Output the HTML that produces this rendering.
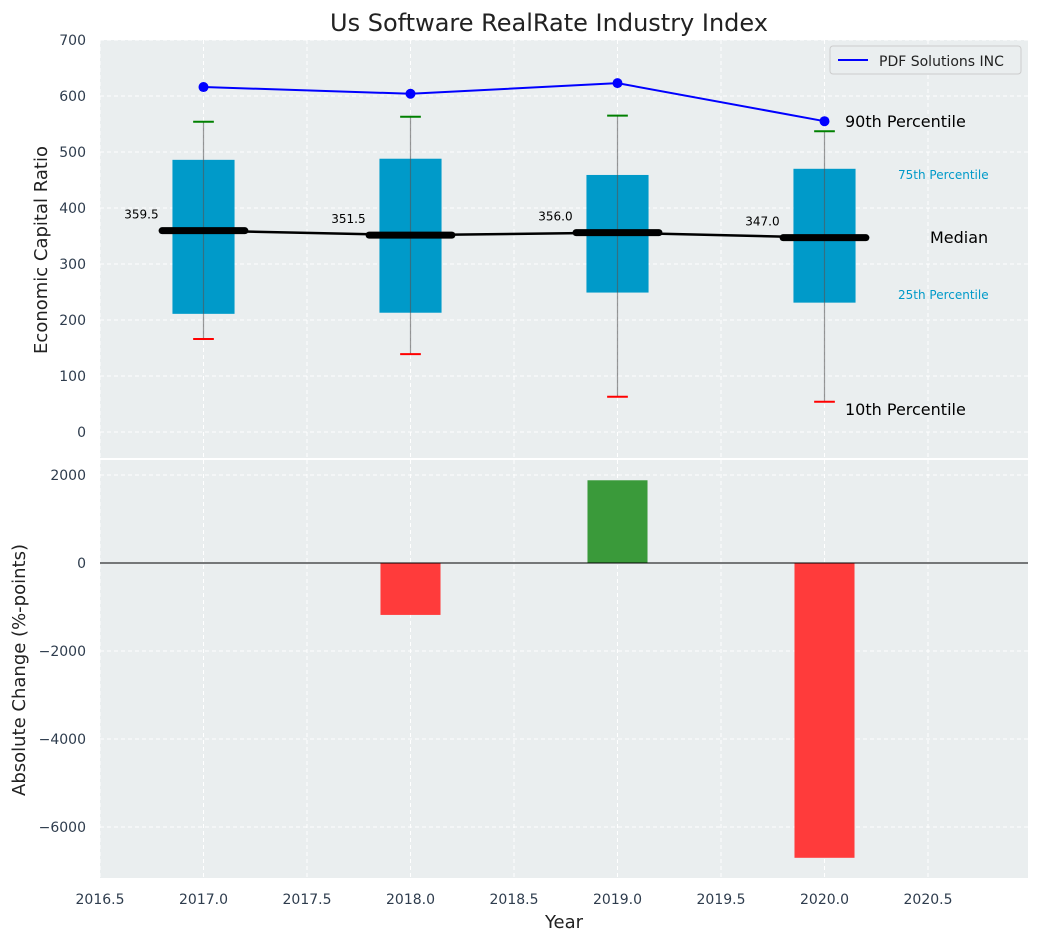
<!DOCTYPE html>
<html><head><meta charset="utf-8"><style>
body{margin:0;background:#fff;font-family:"Liberation Sans","DejaVu Sans",sans-serif}
svg text{font-family:"DejaVu Sans","Liberation Sans",sans-serif}
</style></head><body>
<svg id="c" width="1039" height="942"></svg>
<script>
const years=[2017,2018,2019,2020];
const p10=[166,139,63,54];
const q1=[211,213,249,231];
const med=[359.5,351.5,356.0,347.0];
const q3=[486,488,459,470];
const p90=[554,563,565,537];
const company=[616,604,623,555];
const changes=[0,-1180,1880,-6700];
const xTicks=[2016.5,2017.0,2017.5,2018.0,2018.5,2019.0,2019.5,2020.0,2020.5];
const topTicks=[0,100,200,300,400,500,600,700];
const botTicks=[-6000,-4000,-2000,0,2000];

const NS='http://www.w3.org/2000/svg';
const svg=document.getElementById('c');
function mk(t,a,txt,name){const e=document.createElementNS(NS,t);for(const k in a)e.setAttribute(k,a[k]);if(txt!==undefined)e.textContent=txt;


svg.appendChild(e);return e;}
const L=100,R=1028;
const X=v=>L+(v-2016.5)*207;
const Y1=v=>432-v*0.56;
const Y2=v=>563-v*0.044;
mk('rect',{x:L,y:40,width:R-L,height:418,fill:'#eaeeef'},undefined,'top-plot-area');
mk('rect',{x:L,y:460,width:R-L,height:418,fill:'#eaeeef'},undefined,'bottom-plot-area');
xTicks.forEach(t=>{[[40,458],[460,878]].forEach(r=>mk('line',{x1:X(t),x2:X(t),y1:r[0],y2:r[1],stroke:'#fff','stroke-dasharray':'4,3','stroke-width':1},undefined,'x-grid-line'));
mk('text',{x:X(t),y:904,'font-size':14,fill:'#2e3c4d','text-anchor':'middle'},t.toFixed(1),'x-tick-label');});
topTicks.forEach(t=>{mk('line',{x1:L,x2:R,y1:Y1(t),y2:Y1(t),stroke:'#fff','stroke-dasharray':'4,3'},undefined,'y-grid-line');
mk('text',{x:86,y:Y1(t)+5,'font-size':14,fill:'#2e3c4d','text-anchor':'end'},t,'y-tick-label');});
botTicks.forEach(t=>{mk('line',{x1:L,x2:R,y1:Y2(t),y2:Y2(t),stroke:'#fff','stroke-dasharray':'4,3'},undefined,'y2-grid-line');
mk('text',{x:86,y:Y2(t)+5,'font-size':14,fill:'#2e3c4d','text-anchor':'end'},t<0?'\u2212'+(-t):t,'y2-tick-label');});
years.forEach((y,i)=>{
 mk('rect',{x:X(y-0.15),y:Y1(q3[i]),width:X(y+0.15)-X(y-0.15),height:Y1(q1[i])-Y1(q3[i]),fill:'#009ac9'},undefined,'iqr-box');
 mk('line',{x1:X(y),x2:X(y),y1:Y1(p90[i]),y2:Y1(p10[i]),stroke:'#555','stroke-opacity':0.6,'stroke-width':1.2},undefined,'whisker');
 mk('line',{x1:X(y-0.05),x2:X(y+0.05),y1:Y1(p90[i]),y2:Y1(p90[i]),stroke:'green','stroke-width':2},undefined,'p90-cap');
 mk('line',{x1:X(y-0.05),x2:X(y+0.05),y1:Y1(p10[i]),y2:Y1(p10[i]),stroke:'red','stroke-width':2},undefined,'p10-cap');
});
mk('polyline',{points:years.map((y,i)=>X(y)+','+Y1(med[i])).join(' '),fill:'none',stroke:'#000','stroke-width':2.5},undefined,'median-line');
years.forEach((y,i)=>{
 mk('line',{x1:X(y-0.2),x2:X(y+0.2),y1:Y1(med[i]),y2:Y1(med[i]),stroke:'#000','stroke-width':7,'stroke-linecap':'round'},undefined,'median-marker');
 mk('text',{x:X(y-0.3),y:Y1(med[i])-12,'font-size':12,fill:'#000','text-anchor':'middle'},med[i].toFixed(1),'median-label');
});
mk('polyline',{points:years.map((y,i)=>X(y)+','+Y1(company[i])).join(' '),fill:'none',stroke:'blue','stroke-width':2},undefined,'company-line');
years.forEach((y,i)=>mk('circle',{cx:X(y),cy:Y1(company[i]),r:5,fill:'blue'},undefined,'company-point'));
mk('text',{x:845,y:127,'font-size':16,fill:'#000'},'90th Percentile','p90-annotation');
mk('text',{x:898,y:179,'font-size':12,fill:'#009ac9'},'75th Percentile','q3-annotation');
mk('text',{x:930,y:243,'font-size':16,fill:'#000'},'Median','median-annotation');
mk('text',{x:898,y:299,'font-size':12,fill:'#009ac9'},'25th Percentile','q1-annotation');
mk('text',{x:845,y:415,'font-size':16,fill:'#000'},'10th Percentile','p10-annotation');
mk('rect',{x:830,y:46,width:191,height:28,fill:'#eaeeef',stroke:'#ccc',rx:3},undefined,'legend');
mk('line',{x1:838,x2:868,y1:60,y2:60,stroke:'blue','stroke-width':2},undefined,'legend-swatch');
mk('text',{x:879,y:66,'font-size':14,fill:'#222'},'PDF Solutions INC','legend-label');
years.forEach((y,i)=>{const v=changes[i];if(!v)return;
 mk('rect',{x:X(y-0.145),y:Math.min(Y2(v),Y2(0)),width:X(y+0.145)-X(y-0.145),height:Math.abs(Y2(v)-Y2(0)),fill:v>0?'#3a9a3a':'#ff3b3b'},undefined,'change-bar');});
mk('line',{x1:L,x2:R,y1:Y2(0),y2:Y2(0),stroke:'#000','stroke-width':1},undefined,'zero-line');
mk('text',{x:549,y:31,'font-size':24,fill:'#222','text-anchor':'middle'},'Us Software RealRate Industry Index','chart-title');
mk('text',{x:564,y:928,'font-size':18,fill:'#222','text-anchor':'middle'},'Year','x-axis-title');
mk('text',{x:47,y:250,'font-size':18,fill:'#222','text-anchor':'middle',transform:'rotate(-90 47 250)'},'Economic Capital Ratio','y-axis-title');
mk('text',{x:25,y:670,'font-size':18,fill:'#222','text-anchor':'middle',transform:'rotate(-90 25 670)'},'Absolute Change (%-points)','y2-axis-title');
</script>
</body></html>
